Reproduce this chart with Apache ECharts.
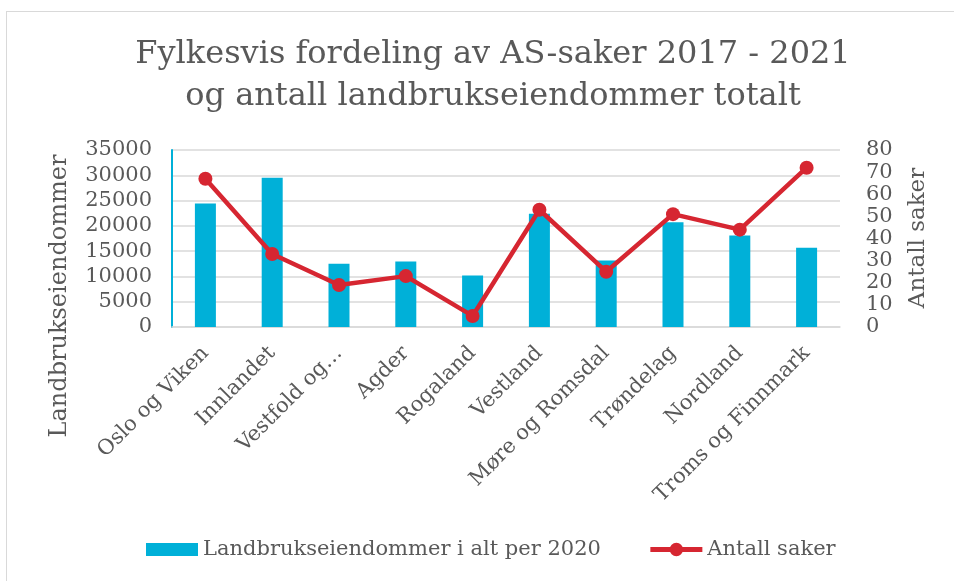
<!DOCTYPE html>
<html>
<head>
<meta charset="utf-8">
<title>Fylkesvis fordeling av AS-saker</title>
<script src="https://cdn.jsdelivr.net/npm/echarts@6/dist/echarts.min.js"></script>
<style>
    html, body { margin: 0; padding: 0; background: #fff; }
    .frame {
        position: absolute; left: 6px; top: 11px; width: 960px; height: 600px;
        border-left: 1.5px solid #d9d9d9; border-top: 1.5px solid #d9d9d9;
    }
    .chart { position: absolute; left: 0; top: 0; width: 954px; height: 581px; }
</style>
</head>
<body>
<div class="frame"></div>
<div class="chart"></div>
<script>
// data
var fylker = ['Oslo og Viken', 'Innlandet', 'Vestfold og…', 'Agder', 'Rogaland',
    'Vestland', 'Møre og Romsdal', 'Trøndelag', 'Nordland', 'Troms og Finnmark'];
var eiendommer = [24400, 29500, 12500, 12950, 10200, 22400, 13150, 20700, 18100, 15650];
var saker = [67, 33, 19, 23, 5, 53, 25, 51, 44, 72];
var leftTicks = [0, 35000, 5000];   // min, max, interval
var rightTicks = [0, 80, 10];

var font = 'DejaVu Serif';
var grey = '#595959';
var red = '#d62631';

var chart = echarts.init(document.getElementsByClassName('chart')[0]);

var option = {
    animation: false,
    textStyle: { fontFamily: font, color: grey },
    title: {
        text: 'Fylkesvis fordeling av AS-saker 2017 - 2021\nog antall landbrukseiendommer totalt',
        left: 488,
        top: 29,
        textAlign: 'center',
        textStyle: { fontFamily: font, fontWeight: 'normal', fontSize: 32, lineHeight: 42, color: grey }
    },
    grid: { left: 172, right: 114, top: 150, bottom: 254 },
    legend: {
        bottom: 16,
        left: 141,
        itemGap: 47,
        itemWidth: 52,
        itemHeight: 13,
        textStyle: { fontFamily: font, fontSize: 21, color: grey },
        data: [
            { name: 'Landbrukseiendommer i alt per 2020', icon: 'rect' },
            { name: 'Antall saker', lineStyle: { width: 5 }, itemStyle: { borderWidth: 3, borderColor: red } }
        ]
    },
    xAxis: {
        type: 'category',
        data: fylker,
        axisTick: { show: false },
        axisLine: { lineStyle: { color: '#d9d9d9', width: 1.5 } },
        axisLabel: { rotate: 45, margin: 23, fontSize: 21, color: grey, fontFamily: font, interval: 0 }
    },
    yAxis: [
        {
            type: 'value',
            min: leftTicks[0], max: leftTicks[1], interval: leftTicks[2],
            axisLine: { show: true, lineStyle: { color: '#00b0d8', width: 2 } },
            axisTick: { show: false },
            splitLine: { lineStyle: { color: '#d9d9d9', width: 1.5 } },
            axisLabel: { margin: 20, fontSize: 21, color: grey, fontFamily: font, formatter: function (v) { return String(v); } }
        },
        {
            type: 'value',
            min: rightTicks[0], max: rightTicks[1], interval: rightTicks[2],
            axisLine: { show: false },
            axisTick: { show: false },
            splitLine: { show: false },
            axisLabel: { margin: 26, fontSize: 21, color: grey, fontFamily: font }
        }
    ],
    graphic: [
        {
            type: 'text', rotation: Math.PI / 2,
            style: { text: 'Landbrukseiendommer', font: '24px "DejaVu Serif"', fill: grey, textAlign: 'center', textVerticalAlign: 'middle' },
            x: 60, y: 296
        },
        {
            type: 'text', rotation: Math.PI / 2,
            style: { text: 'Antall saker', font: '23px "DejaVu Serif"', fill: grey, textAlign: 'center', textVerticalAlign: 'middle' },
            x: 918, y: 238
        }
    ],
    series: [
        {
            name: 'Landbrukseiendommer i alt per 2020',
            type: 'bar',
            yAxisIndex: 0,
            barWidth: 21,
            itemStyle: { color: '#00b0d8' },
            data: eiendommer
        },
        {
            name: 'Antall saker',
            type: 'line',
            yAxisIndex: 1,
            symbol: 'circle',
            symbolSize: 14,
            lineStyle: { color: red, width: 4.5 },
            itemStyle: { color: red },
            data: saker
        }
    ]
};
chart.setOption(option);
</script>
</body>
</html>
